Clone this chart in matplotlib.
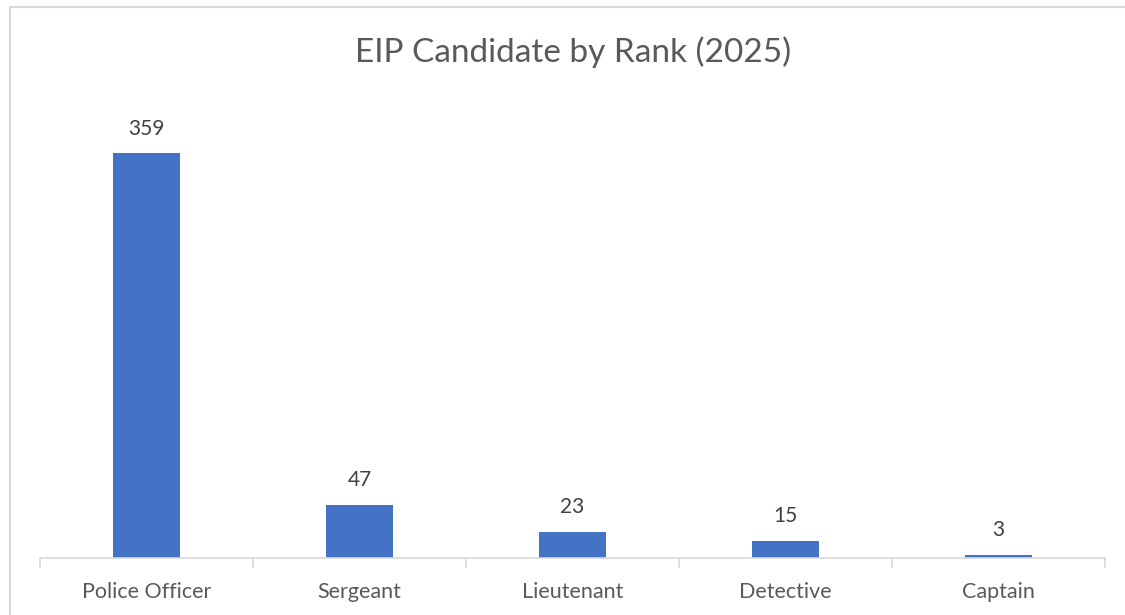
import matplotlib
matplotlib.use("Agg")
import matplotlib.pyplot as plt
from matplotlib.patches import Rectangle

ranks = ["Police Officer", "Sergeant", "Lieutenant", "Detective", "Captain"]
counts = [359, 47, 23, 15, 3]

plt.rcParams["font.family"] = ["Lato", "DejaVu Sans"]

fig = plt.figure(figsize=(11.25, 6.15), dpi=100)
fig.patch.set_facecolor("white")

# chart frame (cropped at right/bottom like the screenshot)
fig.patches.append(Rectangle((10 / 1125, -0.1), 1.2, 1 - 7 / 615 + 0.1,
                             transform=fig.transFigure, fill=False,
                             edgecolor="#d9d9d9", linewidth=1.5))

ax = fig.add_axes([40 / 1125, 57 / 615, 1065 / 1125, 451 / 615])
x = range(len(ranks))
bars = ax.bar(x, counts, width=0.315, color="#4472c4")
ax.set_xlim(-0.5, len(ranks) - 0.5)
ax.set_ylim(0, 400)

for b, v in zip(bars, counts):
    ax.text(b.get_x() + b.get_width() / 2, v + 13, str(v), ha="center",
            va="bottom", fontsize=15, color="#404040")

for s in ["top", "right", "left"]:
    ax.spines[s].set_visible(False)
ax.spines["bottom"].set_color("#d9d9d9")
ax.spines["bottom"].set_linewidth(1.2)
ax.set_yticks([])
ax.set_xticks([i - 0.5 for i in range(len(ranks) + 1)])
ax.set_xticklabels([])
ax.set_xticks(list(x), minor=True)
ax.set_xticklabels(ranks, minor=True, fontsize=15.5, color="#595959")
ax.tick_params(axis="x", which="major", length=7, color="#d9d9d9", width=1.2)
ax.tick_params(axis="x", which="minor", length=0, pad=17)

fig.text(573 / 1125, 1 - 52 / 615, "EIP Candidate by Rank (2025)", ha="center",
         va="center", fontsize=24, color="#595959")

fig.savefig("out.png", dpi=100, facecolor="white")
